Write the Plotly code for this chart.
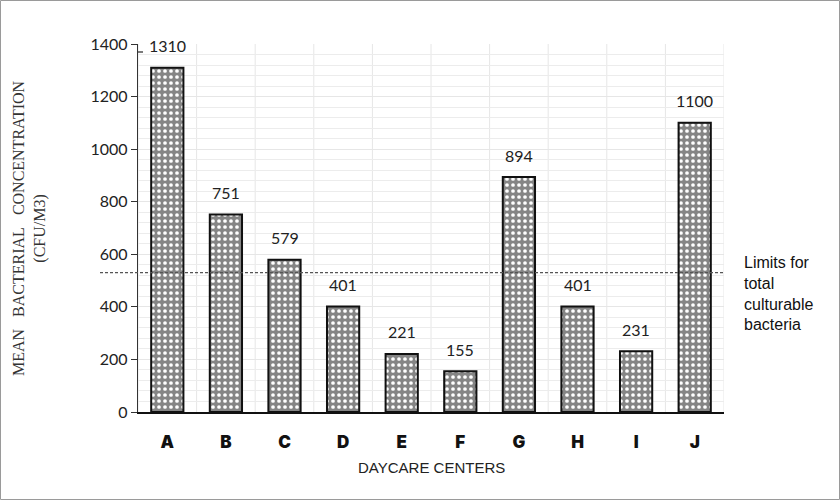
import plotly.graph_objects as go

# Mean bacterial concentration per daycare center (CFU/m3)
centers = ["A", "B", "C", "D", "E", "F", "G", "H", "I", "J"]
concentration = [1310, 751, 579, 401, 221, 155, 894, 401, 231, 1100]
limit_value = 530
limit_label = "Limits for<br>total<br>culturable<br>bacteria"
y_ticks = [0, 200, 400, 600, 800, 1000, 1200, 1400]

W, H = 840, 500
ML, MR, MT, MB = 138, 116, 44, 88
PW, PH = W - ML - MR, H - MT - MB

fig = go.Figure()
fig.add_trace(go.Bar(
    x=centers,
    y=concentration,
    marker=dict(
        color="#8a8a8a",
        line=dict(color="#111", width=2),
        pattern=dict(shape=".", fgcolor="#ffffff", bgcolor="#858585",
                     size=6, solidity=0.3, fillmode="replace"),
    ),
    width=0.55,
    showlegend=False,
))

shapes = []
# vertical grid at category boundaries
for i in range(len(centers) + 1):
    shapes.append(dict(type="line", xref="x", yref="paper",
                       x0=i - 0.5, x1=i - 0.5, y0=0, y1=1,
                       line=dict(color="#e6e6e6", width=1), layer="below"))
# limit line
shapes.append(dict(type="line", xref="paper", yref="y",
                   x0=-38 / PW, x1=1.0, y0=limit_value, y1=limit_value,
                   line=dict(color="#555", width=1.3, dash="3px,2px")))
# small stub at the top of the value axis
shapes.append(dict(type="line", xref="paper", yref="paper",
                   x0=0, x1=5 / PW, y0=1 - 8 / PH, y1=1 - 8 / PH,
                   line=dict(color="#333", width=1.3)))
# outer frame
shapes.append(dict(type="rect", xref="paper", yref="paper",
                   x0=-(ML - 0.5) / PW, x1=1 + (MR - 0.5) / PW,
                   y0=-(MB - 0.5) / PH, y1=1 + (MT - 0.5) / PH,
                   line=dict(color="#9a9a9a", width=1)))

# value labels above each bar
annotations = [
    dict(text=str(v), x=c, y=v, xref="x", yref="y", yshift=22,
         showarrow=False, xanchor="center", yanchor="middle",
         font=dict(family="Lato, Liberation Sans, sans-serif", size=16, color="#222"))
    for c, v in zip(centers, concentration)
]
annotations += [
    dict(text=limit_label, xref="paper", yref="paper",
         x=1 + 18 / PW, y=1 - 208 / PH, xanchor="left", yanchor="top",
         align="left", showarrow=False,
         font=dict(family="Liberation Sans, Arial, sans-serif", size=16, color="#111")),
    dict(text="MEAN\u00a0\u00a0\u00a0BACTERIAL\u00a0\u00a0\u00a0CONCENTRATION<br>(CFU/M3)",
         xref="paper", yref="paper", x=-(ML - 29) / PW, y=0.5,
         xanchor="center", yanchor="middle", textangle=-90, showarrow=False,
         font=dict(family="Liberation Serif, Times New Roman, serif", size=16, color="#333")),
    dict(text="DAYCARE CENTERS", xref="paper", yref="paper",
         x=0.5, y=-55 / PH, xanchor="center", yanchor="middle", showarrow=False,
         font=dict(family="Liberation Sans, Arial, sans-serif", size=15, color="#222")),
]

fig.update_layout(
    width=W, height=H,
    margin=dict(l=ML, r=MR, t=MT, b=MB),
    paper_bgcolor="white", plot_bgcolor="white",
    bargap=0.45,
    shapes=shapes,
    annotations=annotations,
    xaxis=dict(
        type="category",
        range=[-0.5, len(centers) - 0.5],
        showgrid=False,
        showline=True, linecolor="#111", linewidth=2,
        ticks="", ticklabelstandoff=14,
        tickfont=dict(family="Inter, Open Sans, sans-serif", size=17, color="#111", weight=900),
        zeroline=False,
    ),
    yaxis=dict(
        range=[0, 1400],
        tickvals=y_ticks,
        showgrid=True, gridcolor="#e6e6e6", gridwidth=1,
        minor=dict(dtick=40, tick0=0, showgrid=True, gridcolor="#ececec", gridwidth=1),
        showline=True, linecolor="#333", linewidth=1.3,
        ticks="outside", ticklen=6, tickcolor="#333",
        tickfont=dict(family="Lato, Liberation Sans, sans-serif", size=16, color="#222"),
        zeroline=False,
    ),
)

fig.write_html("out.html")
